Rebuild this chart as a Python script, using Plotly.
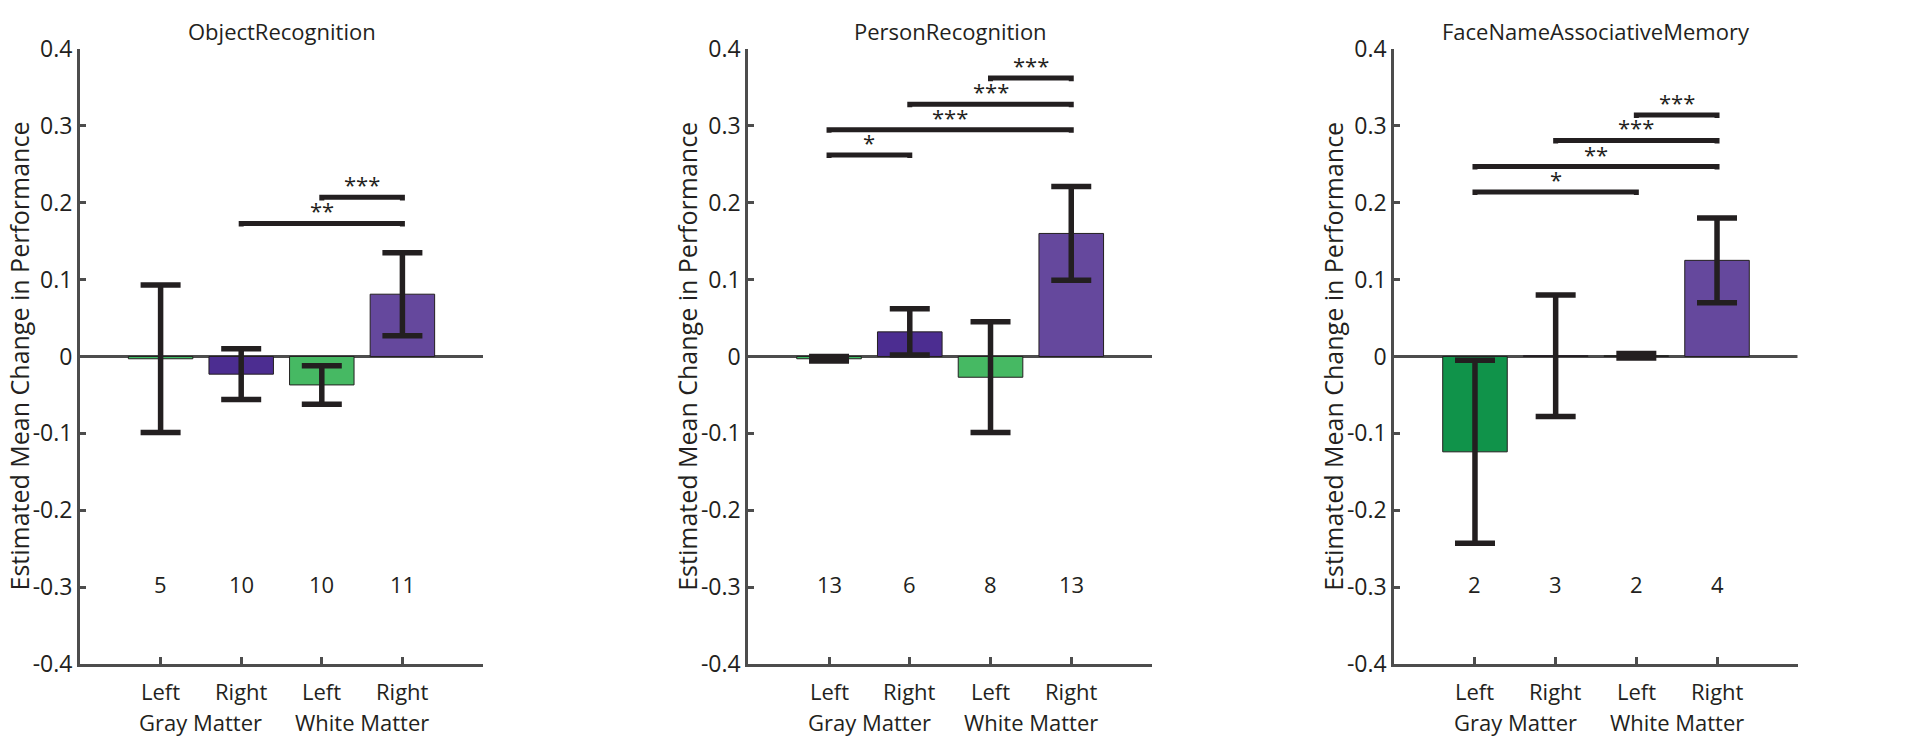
import plotly.graph_objects as go

# ---------------- data ----------------
titles = ["ObjectRecognition", "PersonRecognition", "FaceNameAssociativeMemory"]
positions = [1, 2, 3, 4]
side_labels = ["Left", "Right", "Left", "Right"]
group_labels = ["Gray Matter", "White Matter"]
y_ticks = [-0.4, -0.3, -0.2, -0.1, 0, 0.1, 0.2, 0.3, 0.4]
y_tick_text = ["-0.4", "-0.3", "-0.2", "-0.1", "0", "0.1", "0.2", "0.3", "0.4"]
y_title = "Estimated Mean Change in Performance"

means_object = [-0.003, -0.023, -0.037, 0.081]
err_object = [0.096, 0.033, 0.025, 0.054]
n_object = [5, 10, 10, 11]
br_start_object = [3, 2]
br_end_object = [4, 4]
br_y_object = [0.207, 0.173]
br_label_object = ["***", "**"]

means_person = [-0.003, 0.032, -0.027, 0.160]
err_person = [0.003, 0.030, 0.072, 0.061]
n_person = [13, 6, 8, 13]
br_start_person = [3, 2, 1, 1]
br_end_person = [4, 4, 4, 2]
br_y_person = [0.362, 0.328, 0.295, 0.262]
br_label_person = ["***", "***", "***", "*"]

means_face = [-0.124, 0.001, 0.001, 0.125]
err_face = [0.119, 0.079, 0.003, 0.055]
n_face = [2, 3, 2, 4]
br_start_face = [3, 2, 1, 1]
br_end_face = [4, 4, 4, 3]
br_y_face = [0.314, 0.281, 0.247, 0.214]
br_label_face = ["***", "***", "**", "*"]

n_label_y = -0.296

# ---------------- styles ----------------
FONT = "Open Sans"
AX = "#4d4d4d"
INK = "#231f20"
colors_object = ["#3dbb63", "#4c2d91", "#46b963", "#65489d"]
colors_person = ["#3dbb63", "#4c2d91", "#46b963", "#65489d"]
colors_face = ["#10934a", "#4c2d91", "#46b963", "#65489d"]

W, H = 1920, 755
y_dom = [(H - 675.7) / H, (H - 33.3) / H]
x_doms = [[80 / W, 483 / W], [748.3 / W, 1152 / W], [1394.3 / W, 1797.7 / W]]

panels = [
    (means_object, err_object, n_object, br_start_object, br_end_object, br_y_object, br_label_object, colors_object),
    (means_person, err_person, n_person, br_start_person, br_end_person, br_y_person, br_label_person, colors_person),
    (means_face, err_face, n_face, br_start_face, br_end_face, br_y_face, br_label_face, colors_face),
]

fig = go.Figure()
annotations = []
shapes = []

for i, (means, errs, ns, bs, be, by, bl, cols) in enumerate(panels):
    k = "" if i == 0 else str(i + 1)
    xa, ya = "x" + k, "y" + k
    fig.add_trace(go.Bar(
        x=positions, y=means, width=0.8, xaxis=xa, yaxis=ya,
        marker=dict(color=cols, line=dict(color=INK, width=1)),
        error_y=dict(type="data", array=errs, visible=True, color=INK, thickness=5.5, width=20),
        showlegend=False, hoverinfo="skip",
    ))
    # zero baseline
    shapes.append(dict(type="line", xref=xa, yref=ya, x0=0, x1=5, y0=0, y1=0,
                       line=dict(color=AX, width=3), layer="below"))
    # significance brackets
    for s, e, yy, lab in zip(bs, be, by, bl):
        d = 0.004
        shapes.append(dict(type="path", xref=xa, yref=ya,
                           path=f"M {s},{yy - d} L {s},{yy} L {e},{yy} L {e},{yy - d}",
                           line=dict(color=INK, width=5)))
        annotations.append(dict(x=(s + e) / 2, y=yy, xref=xa, yref=ya, text=lab, showarrow=False,
                                yanchor="bottom", yshift=-4, font=dict(family=FONT, size=22, color=INK)))
    # n labels
    for p, n in zip(positions, ns):
        annotations.append(dict(x=p, y=n_label_y, xref=xa, yref=ya, text=str(n), showarrow=False,
                                yanchor="middle", font=dict(family=FONT, size=22, color=INK)))
    # x labels
    for p, t in zip(positions, side_labels):
        annotations.append(dict(x=p, y=(H - 704) / H, xref=xa, yref="paper", text=t, showarrow=False,
                                yanchor="middle", font=dict(family=FONT, size=22, color=INK)))
    for g, grp in enumerate(group_labels):
        annotations.append(dict(x=positions[2 * g] + 0.5, y=(H - 736) / H, xref=xa, yref="paper", text=grp,
                                showarrow=False, yanchor="middle", font=dict(family=FONT, size=22, color=INK)))
    # title
    annotations.append(dict(x=(x_doms[i][0] + x_doms[i][1]) / 2, y=(H - 15) / H, xref="paper", yref="paper",
                            text=titles[i], showarrow=False, xanchor="center", yanchor="middle",
                            font=dict(family=FONT, size=22, color=INK)))
    # y title
    annotations.append(dict(x=x_doms[i][0] - 61 / W, y=(y_dom[0] + y_dom[1]) / 2, xref="paper", yref="paper",
                            text=y_title, textangle=-90, showarrow=False, xanchor="center", yanchor="middle",
                            font=dict(family=FONT, size=25, color=INK)))

    axis_common = dict(showline=True, linecolor=AX, linewidth=3, ticks="inside", tickcolor=AX,
                       tickwidth=3, showgrid=False, zeroline=False, fixedrange=True)
    fig.update_layout(**{
        "xaxis" + k: dict(domain=x_doms[i], range=[0, 5], tickvals=positions, showticklabels=False,
                          ticklen=7, anchor=ya, **axis_common),
        "yaxis" + k: dict(domain=y_dom, range=[-0.4, 0.4], tickvals=y_ticks, ticktext=y_tick_text,
                          ticklen=6, anchor=xa, tickfont=dict(family=FONT, size=23, color=INK),
                          **axis_common),
    })

fig.update_layout(width=W, height=H, margin=dict(l=0, r=0, t=0, b=0),
                  paper_bgcolor="white", plot_bgcolor="white",
                  annotations=annotations, shapes=shapes, bargap=0.2,
                  font=dict(family=FONT, color=INK))

fig.write_html("out.html", config={"displayModeBar": False},
               post_script="document.body.style.margin='0';document.body.style.overflow='hidden';")
